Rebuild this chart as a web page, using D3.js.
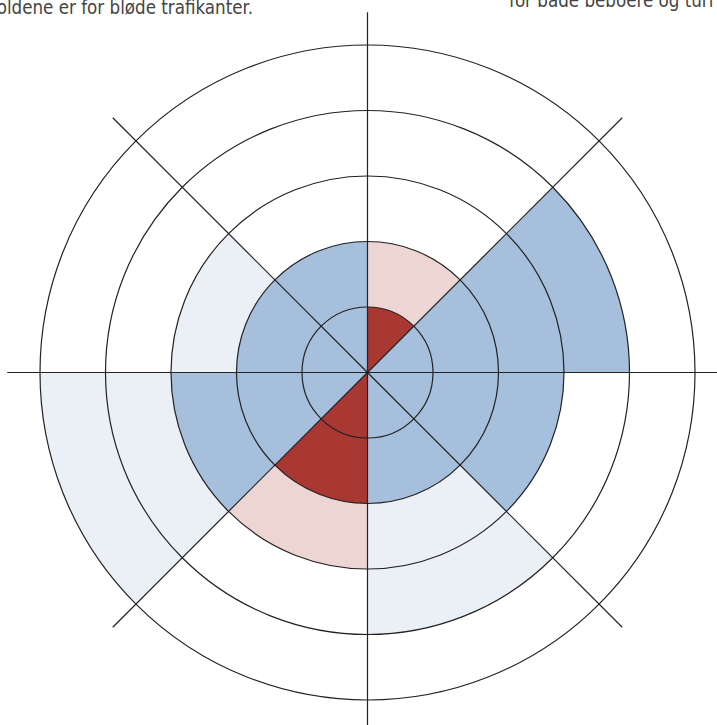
<!DOCTYPE html>
<html>
<head>
<meta charset="utf-8">
<script src="https://cdn.jsdelivr.net/npm/d3@7"></script>
<style>
    body { margin: 0; background: #fff; overflow: hidden; }
    svg { display: block; }
    .note { font-family: "DejaVu Sans Condensed", "Roboto", sans-serif; font-size: 18.6px; fill: #444; }
</style>
</head>
<body>
<script>

//Data - one entry per 45 degree sector, clockwise from north
var sectors = ["N-NØ", "NØ-Ø", "Ø-SØ", "SØ-S", "S-SV", "SV-V", "V-NV", "NV-N"];
var innerValues = [1, 4, 3, 2, 2, 3, 2, 2];
var outerValues = [2, 4, 3, 4, 3, 5, 3, 2];
var groups = ["rod", "bla", "bla", "bla", "rod", "bla", "bla", "bla"];
var rings = [1, 2, 3, 4, 5];
var notes = ["oldene er for bløde trafikanter.", "for både beboere og turi"];

var w = 717;
var h = 725;

var cx = 367.5;
var cy = 372.5;

//Colours for the two shades of each group
var darkColor = { rod: "#a93732", bla: "#a5bfdd" };
var lightColor = { rod: "#edd5d4", bla: "#ebf0f7" };

var svg = d3.select("body").append("svg")
    .attr("width", w)
    .attr("height", h);

var chart = svg.append("g")
    .attr("transform", "translate(" + cx + "," + cy + ")");

//Radial scale
var r = d3.scaleLinear()
    .domain([0, 5])
    .range([0, 327.5]);

var angle = d3.scaleBand()
    .domain(sectors)
    .range([0, 2 * Math.PI]);

var arc = d3.arc()
    .innerRadius(function(d) { return r(d.from); })
    .outerRadius(function(d) { return r(d.to); })
    .startAngle(function(d) { return angle(d.name); })
    .endAngle(function(d) { return angle(d.name) + angle.bandwidth(); });

//Light outer part of each sector
chart.selectAll(".outer")
    .data(sectors)
    .enter()
        .append("path")
        .classed("outer", true)
        .attr("d", function(d, i) {
            return arc({ name: d, from: innerValues[i], to: outerValues[i] });
        })
        .attr("fill", function(d, i) { return lightColor[groups[i]]; });

//Dark inner part of each sector
chart.selectAll(".inner")
    .data(sectors)
    .enter()
        .append("path")
        .classed("inner", true)
        .attr("d", function(d, i) {
            return arc({ name: d, from: 0, to: innerValues[i] });
        })
        .attr("fill", function(d, i) { return darkColor[groups[i]]; });

//Rings
chart.selectAll(".ring")
    .data(rings)
    .enter()
        .append("circle")
        .classed("ring", true)
        .attr("r", function(d) { return r(d); })
        .style("fill", "none")
        .style("stroke", "#222")
        .style("stroke-width", 1.2);

//Spokes, reaching a bit past the outer ring
chart.selectAll(".spoke")
    .data(sectors)
    .enter()
        .append("line")
        .classed("spoke", true)
        .attr("x1", 0)
        .attr("y1", 0)
        .attr("x2", function(d) { return r(5.5) * Math.sin(angle(d)); })
        .attr("y2", function(d) { return -r(5.5) * Math.cos(angle(d)); })
        .style("stroke", "#222")
        .style("stroke-width", 1.2);

//Text cut off at the top of the page
svg.append("text")
    .classed("note", true)
    .attr("x", 253)
    .attr("y", 14)
    .attr("text-anchor", "end")
    .text(notes[0]);

svg.append("text")
    .classed("note", true)
    .attr("x", 509)
    .attr("y", 7)
    .text(notes[1]);

</script>
</body>
</html>
